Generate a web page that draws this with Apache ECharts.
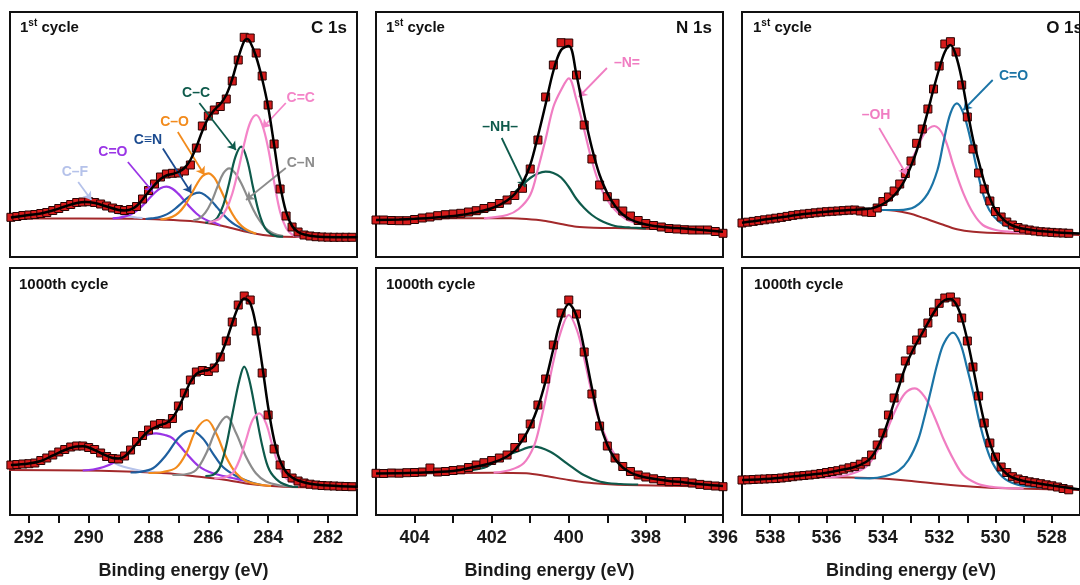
<!DOCTYPE html>
<html><head><meta charset="utf-8">
<script src="https://cdn.jsdelivr.net/npm/echarts@6/dist/echarts.min.js"></script>
<style>html,body{margin:0;padding:0;background:#fff}#c{width:1080px;height:585px}</style>
</head><body><div id="c"></div>
<script>
const FONT = '"Liberation Sans", Arial, sans-serif';

// ---------- energies (eV) ----------
const C1S_E = [292.6,292.4,292.2,292.0,291.8,291.6,291.4,291.2,291.0,290.8,290.6,290.4,290.2,290.0,289.8,289.6,289.4,289.2,289.0,288.8,288.6,288.4,288.2,288.0,287.8,287.6,287.4,287.2,287.0,286.8,286.6,286.4,286.2,286.0,285.8,285.6,285.4,285.2,285.0,284.8,284.6,284.4,284.2,284.0,283.8,283.6,283.4,283.2,283.0,282.8,282.6,282.4,282.2,282.0,281.8,281.6,281.4,281.2];
const N1S_E = [405.0,404.8,404.6,404.4,404.2,404.0,403.8,403.6,403.4,403.2,403.0,402.8,402.6,402.4,402.2,402.0,401.8,401.6,401.4,401.2,401.0,400.8,400.6,400.4,400.2,400.0,399.8,399.6,399.4,399.2,399.0,398.8,398.6,398.4,398.2,398.0,397.8,397.6,397.4,397.2,397.0,396.8,396.6,396.4,396.2,396.0];
const O1S_E = [539.0,538.8,538.6,538.4,538.2,538.0,537.8,537.6,537.4,537.2,537.0,536.8,536.6,536.4,536.2,536.0,535.8,535.6,535.4,535.2,535.0,534.8,534.6,534.4,534.2,534.0,533.8,533.6,533.4,533.2,533.0,532.8,532.6,532.4,532.2,532.0,531.8,531.6,531.4,531.2,531.0,530.8,530.6,530.4,530.2,530.0,529.8,529.6,529.4,529.2,529.0,528.8,528.6,528.4,528.2,528.0,527.8,527.6,527.4];

// ---------- C 1s, 1st cycle ----------
const C1_DATA = [39.7,40.5,41.5,42,42.5,43.5,44.5,46.5,48.5,50.5,52.5,54.5,55,55.3,54.5,53,51,49,47.5,46.5,47.5,50.5,58,66.5,73,80,83,83.7,84,86,92,109,131,141,147,150.5,158,176,197,219.7,219,204,181,152,113,68,41,30,25,22,21,20.3,20,19.8,19.7,19.7,19.7,19.7];
const C1_FIT = [[292.6,39.5],[292.0,42],[291.6,43.5],[291.2,46.5],[290.8,50.5],[290.4,54],[290.1,55],[289.8,54],[289.4,50.5],[289.0,47],[288.8,46.5],[288.6,47.5],[288.4,51],[288.2,57.5],[288.0,65],[287.8,72],[287.6,78],[287.4,81.5],[287.2,83],[287.0,85],[286.8,89],[286.6,97],[286.4,110],[286.2,126],[286.0,139],[285.8,147],[285.6,153],[285.4,162],[285.2,178],[285.0,199],[284.8,216],[284.7,218],[284.6,215],[284.4,200],[284.2,178],[284.0,150],[283.8,112],[283.6,72],[283.4,45],[283.2,31],[283.0,25],[282.8,22.5],[282.4,20.5],[281.8,19.8],[281.0,19.7]];
const C1_BG = [[292.7,38.5],[288.5,38.3],[287.4,37.3],[286.6,36],[286.1,34.3],[285.6,31.5],[285.2,28.7],[284.5,23.7],[283.85,21],[283.0,20],[281.0,19.7]];
const C1_CF = [[292.2,39],[292.0,39.5],[291.8,40.3],[291.6,41.6],[291.4,43.3],[291.2,45.5],[291.0,48],[290.8,50.6],[290.6,52.9],[290.4,54.4],[290.2,55],[290.0,54.4],[289.8,52.9],[289.6,50.6],[289.4,48],[289.2,45.5],[289.0,43.3],[288.8,41.6],[288.6,40.3],[288.4,39.5],[288.2,38.8]];
const C1_CdO = [[289.2,38.6],[289.0,39.2],[288.8,40.4],[288.6,42.5],[288.4,46.1],[288.2,51.4],[288.0,57.7],[287.8,64],[287.6,68.7],[287.4,70.3],[287.2,68.3],[287.0,63.1],[286.8,56.3],[286.6,49.4],[286.4,43.5],[286.2,39.1],[286.0,36.1],[285.8,34.2],[285.6,31.8]];
const C1_CtN = [[288.1,38],[287.9,38.6],[287.7,39.4],[287.5,41.2],[287.3,44.1],[287.1,48.5],[286.9,53.8],[286.7,59.2],[286.5,62.9],[286.3,64.3],[286.1,61.7],[285.9,56.3],[285.7,49.4],[285.5,42.5],[285.3,36.7],[285.1,32.1],[284.9,28.8],[284.7,26.3],[284.5,23.9]];
const C1_CsO = [[287.6,37.5],[287.4,38.4],[287.2,40.2],[287.0,44.1],[286.8,51],[286.6,60.9],[286.4,72],[286.2,80.8],[286.0,83.7],[285.8,79.3],[285.6,68],[285.4,55.2],[285.2,43.2],[285.0,34.5],[284.8,28.8],[284.6,25.4],[284.4,23.2]];
const C1_CsN = [[286.5,36.6],[286.3,38.6],[286.1,44.3],[285.9,54.9],[285.7,69.9],[285.5,83.6],[285.3,88.7],[285.1,83.8],[284.9,73.8],[284.7,60.6],[284.5,47.6],[284.3,37],[284.1,29.2],[283.9,24.7],[283.7,22.3],[283.5,21]];
const C1_CsC = [[286.1,34.3],[285.9,35],[285.7,39.2],[285.5,51.8],[285.3,74.6],[285.1,99.6],[284.9,110.3],[284.7,96.8],[284.5,68.9],[284.3,43.7],[284.1,28.7],[283.9,22.8],[283.7,20.7],[283.5,20.3]];
const C1_CdC = [[286.0,34.5],[285.8,36],[285.6,38.9],[285.4,47.7],[285.2,63.3],[285.0,86.7],[284.8,113.2],[284.6,134.5],[284.4,142],[284.2,132.4],[284.0,108.8],[283.8,75],[283.6,45],[283.4,29],[283.2,22.5],[283.0,20.5],[282.8,20]];

// ---------- C 1s, 1000th cycle ----------
const C2_DATA = [50,50.5,51,51.3,52,54.5,57,60,63,65.5,68,69,69,67.5,65.5,62,58.5,56.5,56,59,65,73.5,79.5,85,90,91.5,91,96.5,109,122,135,143,144.5,143.5,147,158,174,193,210,219,215,184,142,100,66,50,41.5,37,34,32,30.8,30,29.5,29.2,29,28.7,28.5,28.3];
const C2_FIT = [[292.6,50],[292.0,51.5],[291.6,54],[291.2,59.5],[290.8,65],[290.4,68.5],[290.2,68.7],[290.0,67.5],[289.6,62],[289.2,57],[289.0,56.5],[288.8,58.5],[288.4,71],[288.0,84],[287.6,90],[287.4,92],[287.2,97],[287.0,107],[286.8,120],[286.6,133],[286.4,141],[286.2,144],[286.0,145],[285.8,149],[285.6,159],[285.4,174],[285.2,192],[285.0,208],[284.8,216.5],[284.6,212],[284.4,188],[284.2,150],[284.0,108],[283.8,75],[283.6,54],[283.4,43],[283.2,37.5],[283.0,34.5],[282.6,31.3],[282.0,29.5],[281.0,28.3]];
const C2_BG = [[292.7,45],[289.6,44.3],[287.4,41.7],[286.3,38.3],[285.4,35],[284.6,31],[283.5,28.3],[281.0,27.3]];
const C2_CF = [[292.6,47],[292.0,50],[291.5,55],[291.0,61],[290.7,65],[290.4,66.7],[290.1,66],[289.8,63],[289.4,56.5],[289.0,50],[288.6,46.5],[288.2,44],[287.8,43]];
const C2_CdO = [[290.2,44.5],[289.85,45.5],[289.5,48],[289.19,52],[288.74,61.7],[288.3,75],[288.0,80.5],[287.74,81.7],[287.45,80],[287.19,76.7],[286.74,61.7],[286.3,48.3],[285.85,41.7],[285.19,37],[284.6,33]];
const C2_CtN = [[288.6,42.5],[288.3,43],[287.85,46.7],[287.41,60],[286.96,78.3],[286.57,84.3],[286.19,76.7],[285.85,61.7],[285.52,48.3],[285.07,39],[284.6,33],[284.2,30]];
const C2_CsO = [[288.0,42],[287.52,43],[287.07,47.5],[286.74,61.7],[286.41,85],[286.05,95],[285.74,81.7],[285.41,58.3],[285.07,41.7],[284.74,34],[284.3,30.5],[283.9,29]];
const C2_CsN = [[287.2,40],[286.8,40.5],[286.41,45],[286.07,61.7],[285.74,85],[285.39,98.3],[285.07,81.7],[284.74,58.3],[284.41,41.7],[284.07,33.5],[283.6,29.5],[283.2,28.5]];
const C2_CsC = [[286.1,39],[285.85,40],[285.63,46.7],[285.41,68.3],[285.19,101.7],[284.96,135],[284.8,148.3],[284.63,135],[284.41,101.7],[284.19,68.3],[283.96,45],[283.63,33.3],[283.3,29],[283.0,28]];
const C2_CdC = [[285.8,36.5],[285.41,38],[285.19,41.7],[284.96,55],[284.74,75],[284.52,95],[284.3,101.7],[284.07,91.7],[283.85,68.3],[283.63,48.3],[283.41,36.7],[282.96,30],[282.6,28.5]];

// ---------- N 1s, 1st cycle ----------
const N1_DATA = [37,37,36.5,36.3,36.3,37.5,39,40,41.3,42.3,43,43.7,45,46.3,48.5,50.5,53.5,57,61.5,68.7,88,117,160,192,214.3,214,182,132,98,72,60.3,53.7,46,41,36.5,33.5,31.5,30,28.5,28,27.3,27,27,27,25.5,23.7];
const N1_FIT = [[405,37],[404.4,37.6],[404,38.2],[403.6,39],[403.2,40.2],[402.8,42],[402.4,44.8],[402.2,46.5],[402,48.8],[401.8,52],[401.6,56.5],[401.4,63],[401.2,74],[401,92],[400.8,121],[400.6,153],[400.4,186],[400.2,207],[400,211],[399.8,182],[399.6,143],[399.4,109],[399.2,82],[399,63.7],[398.8,51],[398.6,42.5],[398.4,37.5],[398.2,34.5],[398,32.6],[397.6,30.2],[397.2,29],[396.8,27.8],[396.4,26.6],[396,25.3]];
const N1_BG = [[405,37.5],[403.5,38.7],[401.5,38.7],[401.1,38],[400.65,36.3],[400.2,33],[399.8,30.3],[399.35,29.3],[398.5,28.7],[397.6,28],[396,25.3]];
const N1_NH = [[403.4,39.5],[403.0,40],[402.8,41],[402.4,43.5],[402.0,47.5],[401.8,52],[401.6,58],[401.4,65],[401.2,72],[401.0,79],[400.8,83.5],[400.6,85.3],[400.4,84],[400.2,79.5],[400.0,70],[399.8,58],[399.6,49],[399.4,42],[399.2,37],[399.0,33.5],[398.8,31],[398.6,30],[398.4,29.5],[398.0,28.7]];
const N1_Ndb = [[402.2,38.7],[401.6,42],[401.3,48],[401.0,62],[400.8,88],[400.6,118],[400.4,150],[400.2,167],[400.0,178.7],[399.8,157],[399.6,127],[399.4,96],[399.2,72],[399.0,57],[398.8,47],[398.5,37.5],[398.1,32.5],[397.6,29.5],[397.0,28]];

// ---------- N 1s, 1000th cycle ----------
const N2_DATA = [41.7,41.5,42,41.8,42.3,42.5,43,47,43,43.5,44.5,45.2,47.5,50,52.3,54.5,57,60,67.5,77,91,110,136,170,202,215,201,163,121,89,69,57,48.5,43.5,40,38,36.2,34.5,33.3,33.5,33.2,32,30.6,29.7,29,28.3];
const N2_FIT = [[405,41.5],[404,42.3],[403,44],[402.4,48.5],[402,52],[401.6,58.5],[401.4,65],[401.2,75],[401,89],[400.8,108],[400.6,134],[400.4,166],[400.2,196],[400,211],[399.8,199],[399.6,166],[399.4,127],[399.2,93],[399,70],[398.8,56],[398.6,47.5],[398.4,42.5],[398.2,39.5],[398,37.5],[397.5,34.5],[397,32.5],[396.5,30.5],[396,29]];
const N2_BG = [[405,41],[402,42.3],[401.1,41.7],[400.6,39],[400,35],[399.35,31.7],[398.5,30],[396,28.3]];
const N2_NH = [[403.4,42.3],[403,42.5],[402.56,44.5],[402.13,48.3],[401.78,56.7],[401.35,63.3],[400.91,68.3],[400.48,63.3],[400.05,51.7],[399.61,40],[399.18,33.3],[398.66,31],[398.2,30.5]];
const N2_Ndb = [[401.95,42.3],[401.52,45],[401.17,51.7],[400.91,68.3],[400.74,91.7],[400.57,121.7],[400.39,155],[400.22,181.7],[400.0,200],[399.79,185],[399.61,158.3],[399.44,128.3],[399.27,101.7],[399.01,75],[398.75,56.7],[398.49,45],[398.06,36.7],[397.62,32.3],[397.0,30]];

// ---------- O 1s, 1st cycle ----------
const O1_DATA = [34,34.8,35.6,36.4,37.2,38,38.8,39.6,40.6,41.6,42.3,43,43.6,44.2,44.8,45.3,45.7,46,46.4,46.8,47,46,45,44.5,49,55.5,60,66,73,83.5,96,113.7,128,148,168,191,213,215.3,205,172,140,108,84,68,56,45.5,40,35,32,29.5,28,27,26,25.3,25,24.6,24.2,24,23.7];
const O1_FIT = [[539,34.3],[538.6,35.8],[538.2,37.4],[537.8,39],[537.4,40.6],[537,42.2],[536.6,43.6],[536.2,44.8],[535.8,45.8],[535.4,46.6],[535,47.3],[534.6,48],[534.4,48.6],[534.2,50.5],[534,53],[533.8,56.5],[533.6,61.5],[533.4,68.5],[533.2,78],[533,91],[532.8,106],[532.6,125],[532.4,146],[532.2,168],[532,188],[531.8,205],[531.6,212],[531.4,201],[531.2,178],[531,147],[530.8,118],[530.6,96],[530.4,75],[530.2,59],[530,47],[529.8,40],[529.6,34.7],[529.4,31.5],[529.2,29.5],[529,28.2],[528.6,26.6],[528.2,25.4],[527.8,24.5],[527.0,23.5]];
const O1_BG = [[539,34.3],[537.11,41],[534.82,46.3],[533.9,47],[533.09,43.7],[532.52,38.7],[531.94,33],[531.37,27.7],[530.79,25.3],[529.64,23.7],[527.0,22]];
const O1_CdO = [[534.5,47],[533.9,47],[533.44,47],[532.86,50.3],[532.4,63.7],[532.06,87],[531.83,117],[531.6,143.7],[531.37,153.7],[531.14,143.7],[530.91,120.3],[530.68,90.3],[530.45,63.7],[530.22,47],[529.87,35.3],[529.41,28.7],[528.84,25.3],[528.2,24]];
const O1_OH = [[535.0,46.8],[534.59,46.8],[534.24,48.7],[533.9,53.7],[533.55,65.3],[533.21,83.7],[532.86,103.7],[532.52,123.7],[532.17,131],[531.83,120.3],[531.48,90.3],[531.14,63.7],[530.79,43.7],[530.45,32],[529.99,27],[529.41,25],[528.8,24]];

// ---------- O 1s, 1000th cycle ----------
const O2_DATA = [35,35.2,35.5,35.8,36,36.3,36.5,37,37.7,38.3,39,39.5,40,40.7,41.5,42.5,43.5,44.3,45.8,47.2,48.6,50.8,53.3,60,70,82,100,117,137,154,165,175,182,192,203,211.7,217,218,213,197,174,148,119,92,72,58,48,42.5,38.3,36,34.5,33.2,32.3,31.3,30.2,29.2,28,26.5,25.2];
const O2_FIT = [[539,35],[538,36.3],[537,39],[536,42.3],[535.4,45.5],[535,48],[534.6,53],[534.4,58],[534.2,67],[534,79],[533.8,95],[533.6,113],[533.4,131],[533.2,148],[533,161],[532.8,172],[532.6,182],[532.4,192],[532.2,202],[532,210],[531.8,215],[531.6,216],[531.4,211],[531.2,197],[531,175],[530.8,148],[530.6,119],[530.4,93],[530.2,72],[530,57],[529.8,47],[529.6,41],[529.4,37.5],[529,34],[528.5,31.8],[528,29.5],[527.0,25.5]];
const O2_BG = [[539,35],[535.97,37.7],[534.24,36.7],[533.09,34.3],[531.94,31],[530.79,28.3],[529.64,26.7],[527.0,25]];
const O2_CdO = [[535,37],[534.47,36.7],[533.9,39],[533.44,44.3],[533.09,55],[532.75,75],[532.52,98.3],[532.29,125],[532.06,151.7],[531.83,171.7],[531.51,182.3],[531.25,171.7],[531.02,148.3],[530.79,121.7],[530.56,91.7],[530.33,68.3],[530.1,51.7],[529.76,38.3],[529.3,31],[528.72,28.3],[528,27]];
const O2_OH = [[536.2,37.5],[535.62,38.3],[535.05,41.7],[534.59,48.3],[534.24,61.7],[533.9,81.7],[533.55,105],[533.21,121.7],[532.86,126.7],[532.52,118.3],[532.17,98.3],[531.83,75],[531.48,55],[531.14,40],[530.68,31.7],[530.22,28.3],[529.64,27],[529,26.5]];

// ---------- axis ticks ----------
const C_LABELS = [282,284,286,288,290,292];
const C_TICKS = [282,283,284,285,286,287,288,289,290,291,292];
const N_LABELS = [396,398,400,402,404];
const N_TICKS = [396,397,398,399,400,401,402,403,404];
const O_LABELS = [528,530,532,534,536,538];
const O_TICKS = [528,529,530,531,532,533,534,535,536,537,538];

// ---------- colours ----------
const COL = {
  CF:'#b5c2ea', CdO:'#9a35e6', CtN:'#1f5f9f', CsO:'#f28b1d', CsN:'#8c8c8c',
  CsC:'#0e5a4b', CdC:'#f484c8', NH:'#0e5a4b', Ndb:'#f07dc2', OH:'#f07dc2', OCdO:'#1b74a6',
  bg:'#a3292b', fit:'#000000', pt:'#d61a1a', ptEdge:'#2a0303'
};

// annotation arrows (data coords)
const C1_NOTES = [
  {t:'C–F', c:COL.CF, at:[290.46,85], from:[290.35,75], to:[289.91,57]},
  {t:'C=O', c:COL.CdO, at:[289.19,105], from:[288.69,95], to:[287.85,65]},
  {t:'C≡N', c:'#1b4b90', at:[288.02,117], from:[287.52,108.5], to:[286.57,64]},
  {t:'C–O', c:COL.CsO, at:[287.13,135], from:[287.02,125], to:[286.13,82]},
  {t:'C–C', c:COL.CsC, at:[286.41,164], from:[286.3,154], to:[285.08,107]},
  {t:'C=C', c:COL.CdC, at:[282.91,159], from:[283.41,154], to:[284.19,129]},
  {t:'C–N', c:COL.CsN, at:[282.91,94], from:[283.41,89], to:[284.74,57]}
];
const N1_NOTES = [
  {t:'–NH–', c:COL.NH, at:[401.78,130], from:[401.74,119], to:[401.13,70]},
  {t:'–N=', c:COL.Ndb, at:[398.49,194], from:[399.01,189], to:[399.74,160]}
];
const O1_NOTES = [
  {t:'–OH', c:COL.OH, at:[534.24,142], from:[534.13,129], to:[533.15,82]},
  {t:'C=O', c:COL.OCdO, at:[529.36,181], from:[530.1,177], to:[531.14,147]}
];

const panels = [
  {E:C1S_E, data:C1_DATA, fit:C1_FIT, bg:C1_BG, notes:C1_NOTES,
   comps:[[C1_CF,COL.CF],[C1_CdO,COL.CdO],[C1_CtN,COL.CtN],[C1_CsO,COL.CsO],[C1_CsN,COL.CsN],[C1_CsC,COL.CsC],[C1_CdC,COL.CdC]]},
  {E:N1S_E, data:N1_DATA, fit:N1_FIT, bg:N1_BG, notes:N1_NOTES, comps:[[N1_NH,COL.NH],[N1_Ndb,COL.Ndb]]},
  {E:O1S_E, data:O1_DATA, fit:O1_FIT, bg:O1_BG, notes:O1_NOTES, comps:[[O1_OH,COL.OH],[O1_CdO,COL.OCdO]]},
  {E:C1S_E, data:C2_DATA, fit:C2_FIT, bg:C2_BG, notes:[],
   comps:[[C2_CF,COL.CF],[C2_CdO,COL.CdO],[C2_CtN,COL.CtN],[C2_CsO,COL.CsO],[C2_CsN,COL.CsN],[C2_CsC,COL.CsC],[C2_CdC,COL.CdC]]},
  {E:N1S_E, data:N2_DATA, fit:N2_FIT, bg:N2_BG, notes:[], comps:[[N2_NH,COL.NH],[N2_Ndb,COL.Ndb]]},
  {E:O1S_E, data:O2_DATA, fit:O2_FIT, bg:O2_BG, notes:[], comps:[[O2_OH,COL.OH],[O2_CdO,COL.OCdO]]}
];

const grids = [
  {left:10, top:12, width:347, height:245},
  {left:376, top:12, width:347, height:245},
  {left:742, top:12, width:348, height:245},
  {left:10, top:268, width:347, height:247},
  {left:376, top:268, width:347, height:247},
  {left:742, top:268, width:348, height:247}
].map(g => Object.assign(g, {show:true, borderColor:'#111', borderWidth:2, backgroundColor:'#fff', containLabel:false}));

const xr = [[281.03,292.63],[396,405],[527,539]];
const tk = [[C_TICKS,C_LABELS],[N_TICKS,N_LABELS],[O_TICKS,O_LABELS]];

const xAxis = [], yAxis = [], series = [];
for (let i = 0; i < 6; i++) {
  const col = i % 3, bottom = i >= 3;
  xAxis.push({
    gridIndex:i, type:'value', inverse:true, min:xr[col][0], max:xr[col][1], show:bottom,
    axisLine:{show:true, onZero:false, lineStyle:{color:'#111', width:2}},
    axisTick:{show:true, inside:false, length:8, lineStyle:{color:'#111', width:2}, customValues:tk[col][0]},
    axisLabel:{customValues:tk[col][1], fontSize:18, fontWeight:'bold', color:'#1a1a1a', fontFamily:FONT, margin:14},
    splitLine:{show:false},
    name:'Binding energy (eV)', nameLocation:'middle', nameGap:47,
    nameTextStyle:{fontSize:18, fontWeight:'bold', color:'#1a1a1a', fontFamily:FONT}
  });
  yAxis.push({gridIndex:i, type:'value', min:0, max: bottom ? 247 : 245, show:false});

  const p = panels[i];
  series.push({
    type:'line', xAxisIndex:i, yAxisIndex:i, data:p.bg, smooth:0.3, showSymbol:false, z:2,
    lineStyle:{color:COL.bg, width:2}, silent:true,
    markLine:{silent:true, symbol:['none','arrow'], symbolSize:8, animation:false,
      label:{show:false}, lineStyle:{width:1.8, type:'solid'},
      data:p.notes.map(n => [{coord:n.from, lineStyle:{color:n.c, width:1.8, type:'solid'}, itemStyle:{color:n.c}}, {coord:n.to}])},
    markPoint:{silent:true, symbol:'rect', symbolSize:1, animation:false,
      itemStyle:{color:'rgba(0,0,0,0)'},
      label:{show:true, position:'inside', fontSize:14, fontWeight:'bold', fontFamily:FONT, formatter:q => q.name},
      data:p.notes.map(n => ({name:n.t, coord:n.at, label:{color:n.c}}))}
  });
  p.comps.forEach(([arr, c]) => series.push({
    type:'line', xAxisIndex:i, yAxisIndex:i, data:arr, smooth:0.35, showSymbol:false, z:3,
    lineStyle:{color:c, width:2.2}, silent:true
  }));
  series.push({
    type:'scatter', xAxisIndex:i, yAxisIndex:i, z:4, silent:true,
    data:p.E.map((e,k) => [e, p.data[k]]),
    symbol:'rect', symbolSize:8,
    itemStyle:{color:COL.pt, borderColor:COL.ptEdge, borderWidth:1, opacity:1}
  });
  series.push({
    type:'line', xAxisIndex:i, yAxisIndex:i, data:p.fit, smooth:0.35, showSymbol:false, z:5,
    lineStyle:{color:COL.fit, width:2.5}, silent:true
  });
}

const tStyle = (fs) => ({fontSize:fs, fontWeight:'bold', color:'#111', fontFamily:FONT});
const firstCycle = (left) => ({
  text:'{n|1}{s|st}{n| cycle}', left:left, top:18, padding:0,
  textStyle:{rich:{
    n:{fontSize:15, fontWeight:'bold', color:'#111', fontFamily:FONT, lineHeight:19},
    s:{fontSize:10, fontWeight:'bold', color:'#111', fontFamily:FONT, lineHeight:19, verticalAlign:'top', padding:[0,0,6,0]}
  }}
});
const title = [
  firstCycle(20), firstCycle(386), firstCycle(753),
  {text:'C 1s', right:733, top:20, padding:0, textStyle:tStyle(17)},
  {text:'N 1s', right:368, top:20, padding:0, textStyle:tStyle(17)},
  {text:'O 1s', right:-3, top:20, padding:0, textStyle:tStyle(17)},
  {text:'1000th cycle', left:19, top:277, padding:0, textStyle:tStyle(15)},
  {text:'1000th cycle', left:386, top:277, padding:0, textStyle:tStyle(15)},
  {text:'1000th cycle', left:754, top:277, padding:0, textStyle:tStyle(15)}
];

const chart = echarts.init(document.getElementById('c'), null, {renderer:'canvas'});
chart.setOption({animation:false, backgroundColor:'#fff', title, grid:grids, xAxis, yAxis, series});
</script>
</body></html>
